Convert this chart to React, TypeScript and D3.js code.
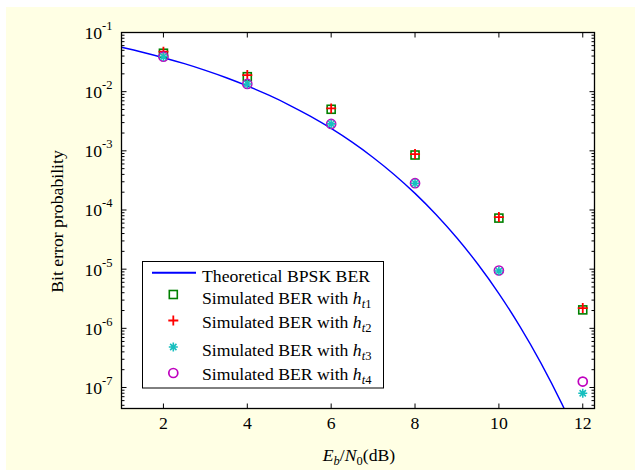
import React from "react";
import * as d3 from "d3";

// ---------- data ----------
const snrDb = [2, 4, 6, 8, 10, 12];
const berHt1 = [0.0446, 0.0179, 5.04e-3, 8.5e-4, 7.3e-5, 2.05e-6];
const berHt2 = [0.0474, 0.0191, 5.2e-3, 8.8e-4, 7.6e-5, 2.2e-6];
const berHt3 = [0.039, 0.0135, 2.85e-3, 2.84e-4, 9.3e-6, 8.0e-8];
const berHt4 = [0.039, 0.0135, 2.85e-3, 2.84e-4, 9.5e-6, 1.26e-7];

const theoryDb = [1, 1.5, 2, 2.5, 3, 3.5, 4, 4.5, 5, 5.5, 6, 6.5, 7, 7.5, 8, 8.5, 9, 9.5, 10, 10.5, 11, 11.5, 12];
const theoryBer = [
  0.0563, 0.0464, 0.0375, 0.0297, 0.0229, 0.0172, 0.0125, 0.00879, 0.00595, 0.00386,
  0.00239, 0.0014, 7.73e-4, 3.99e-4, 1.91e-4, 8.4e-5, 3.36e-5, 1.21e-5, 3.87e-6,
  1.08e-6, 2.61e-7, 5.33e-8, 9.0e-9,
];

const xTicks = [2, 4, 6, 8, 10, 12];
const yTickExps = [-1, -2, -3, -4, -5, -6, -7];
const legendLabels = ["Theoretical BPSK BER", "Simulated BER with ", "Simulated BER with ", "Simulated BER with ", "Simulated BER with "];
const legendSubs = ["", "1", "2", "3", "4"];

// ---------- layout ----------
const W = 635;
const H = 470;
const L = 121.5, R = 594.5, T = 32.5, B = 408.5;
const FONT = "'Liberation Serif', 'Times New Roman', serif";
const FS = 17.7;
const FSS = 12.5;

const x = d3.scaleLinear().domain([1, 12.28]).range([L, R]);
const y = d3.scaleLog().domain([Math.pow(10, -7.355), 0.1]).range([B, T]);

const GREEN = "#008000";
const RED = "#FF0000";
const CYAN = "#17BFBF";
const MAG = "#BF00BF";
const BLUE = "#0000FF";

function Square({ cx, cy }: { cx: number; cy: number }) {
  return <rect x={cx - 4} y={cy - 4} width={8} height={8} fill="none" stroke={GREEN} strokeWidth={1.6} />;
}
function Plus({ cx, cy }: { cx: number; cy: number }) {
  return (
    <path d={`M${cx - 5},${cy}H${cx + 5}M${cx},${cy - 5}V${cy + 5}`} stroke={RED} strokeWidth={1.8} fill="none" />
  );
}
function Star({ cx, cy }: { cx: number; cy: number }) {
  const r = 4.5;
  const d = `M${cx - r},${cy}H${cx + r}M${cx},${cy - r}V${cy + r}M${cx - r * 0.7},${cy - r * 0.7}L${cx + r * 0.7},${cy + r * 0.7}M${cx - r * 0.7},${cy + r * 0.7}L${cx + r * 0.7},${cy - r * 0.7}`;
  return <path d={d} stroke={CYAN} strokeWidth={1.6} fill="none" />;
}
function Circ({ cx, cy }: { cx: number; cy: number }) {
  return <circle cx={cx} cy={cy} r={4.5} fill="none" stroke={MAG} strokeWidth={1.7} />;
}

export default function App() {
  const line = d3
    .line<number>()
    .x((_, i) => x(theoryDb[i]))
    .y((d) => y(d))
    .curve(d3.curveMonotoneX);

  const minorTicks: number[] = [];
  for (let e = -8; e <= -2; e++) {
    for (let m = 2; m <= 9; m++) {
      const v = m * Math.pow(10, e);
      if (v >= y.domain()[0] && v <= 0.1) minorTicks.push(v);
    }
  }

  const legendMarkerY = [294.5, 320.5, 347, 373];
  const legendBase = [281.7, 304.3, 328.3, 356, 380];

  return (
    <svg width={W} height={H} style={{ position: "fixed", left: 0, top: 0 }} fontFamily={FONT}>
      <rect x={0} y={0} width={W} height={H} fill="#ffffff" />
      <rect x={6} y={7} width={W - 6} height={H - 7} fill="#FFFFE4" />
      <defs>
        <clipPath id="plotclip">
          <rect x={L} y={T} width={R - L} height={B - T} />
        </clipPath>
      </defs>
      <rect x={L} y={T} width={R - L} height={B - T} fill="#ffffff" />

      {/* theoretical curve */}
      <path d={line(theoryBer) || ""} fill="none" stroke={BLUE} strokeWidth={1.4} clipPath="url(#plotclip)" />

      {/* markers */}
      {snrDb.map((d, i) => (
        <g key={"m" + i}>
          <Square cx={x(d)} cy={y(berHt1[i])} />
          <Plus cx={x(d)} cy={y(berHt2[i])} />
          <Circ cx={x(d)} cy={y(berHt4[i])} />
          <Star cx={x(d)} cy={y(berHt3[i])} />
        </g>
      ))}

      {/* x ticks */}
      {xTicks.map((t) => (
        <g key={"xt" + t}>
          <line x1={x(t)} x2={x(t)} y1={B} y2={B - 5} stroke="#000" strokeWidth={1} />
          <line x1={x(t)} x2={x(t)} y1={T} y2={T + 5} stroke="#000" strokeWidth={1} />
          <text x={x(t)} y={428.5} textAnchor="middle" fontSize={FS} fill="#000">
            {t}
          </text>
        </g>
      ))}

      {/* y ticks */}
      {yTickExps.map((e) => {
        const yy = y(Math.pow(10, e));
        return (
          <g key={"yt" + e}>
            <line x1={L} x2={L + 5} y1={yy} y2={yy} stroke="#000" strokeWidth={1} />
            <line x1={R} x2={R - 5} y1={yy} y2={yy} stroke="#000" strokeWidth={1} />
            <text x={112.5} y={yy + 6.5} textAnchor="end" fontSize={FS} fill="#000">
              10
              <tspan fontSize={FSS} dy={-9}>
                {"-" + Math.abs(e)}
              </tspan>
            </text>
          </g>
        );
      })}
      {minorTicks.map((v, i) => (
        <g key={"mt" + i}>
          <line x1={L} x2={L + 3} y1={y(v)} y2={y(v)} stroke="#000" strokeWidth={1} />
          <line x1={R} x2={R - 3} y1={y(v)} y2={y(v)} stroke="#000" strokeWidth={1} />
        </g>
      ))}

      {/* frame */}
      <rect x={L} y={T} width={R - L} height={B - T} fill="none" stroke="#000" strokeWidth={1.3} />

      {/* axis labels */}
      <text x={359} y={461} textAnchor="middle" fontSize={FS} fill="#000">
        <tspan fontStyle="italic">E</tspan>
        <tspan fontStyle="italic" fontSize={FSS} dy={4}>b</tspan>
        <tspan dy={-4}>/</tspan>
        <tspan fontStyle="italic">N</tspan>
        <tspan fontSize={FSS} dy={4}>0</tspan>
        <tspan dy={-4}>(dB)</tspan>
      </text>
      <text transform={`translate(63,${(T + B) / 2 + 1}) rotate(-90)`} textAnchor="middle" fontSize={FS} fill="#000">
        Bit error probability
      </text>

      {/* legend */}
      <rect x={142.5} y={261.5} width={241} height={126.5} fill="#ffffff" stroke="#000" strokeWidth={1} />
      <line x1={152} x2={196} y1={272.7} y2={272.7} stroke={BLUE} strokeWidth={2} />
      <Square cx={173.3} cy={legendMarkerY[0]} />
      <Plus cx={173.3} cy={legendMarkerY[1]} />
      <Star cx={173.3} cy={legendMarkerY[2]} />
      <Circ cx={173.3} cy={legendMarkerY[3]} />
      {legendLabels.map((lab, i) => (
        <text key={"lg" + i} x={202} y={legendBase[i]} fontSize={FS} fill="#000">
          {lab}
          {i > 0 && (
            <>
              <tspan fontStyle="italic">h</tspan>
              <tspan fontStyle="italic" fontSize={FSS} dy={4}>t</tspan>
              <tspan fontSize={FSS}>{legendSubs[i]}</tspan>
            </>
          )}
        </text>
      ))}
    </svg>
  );
}
